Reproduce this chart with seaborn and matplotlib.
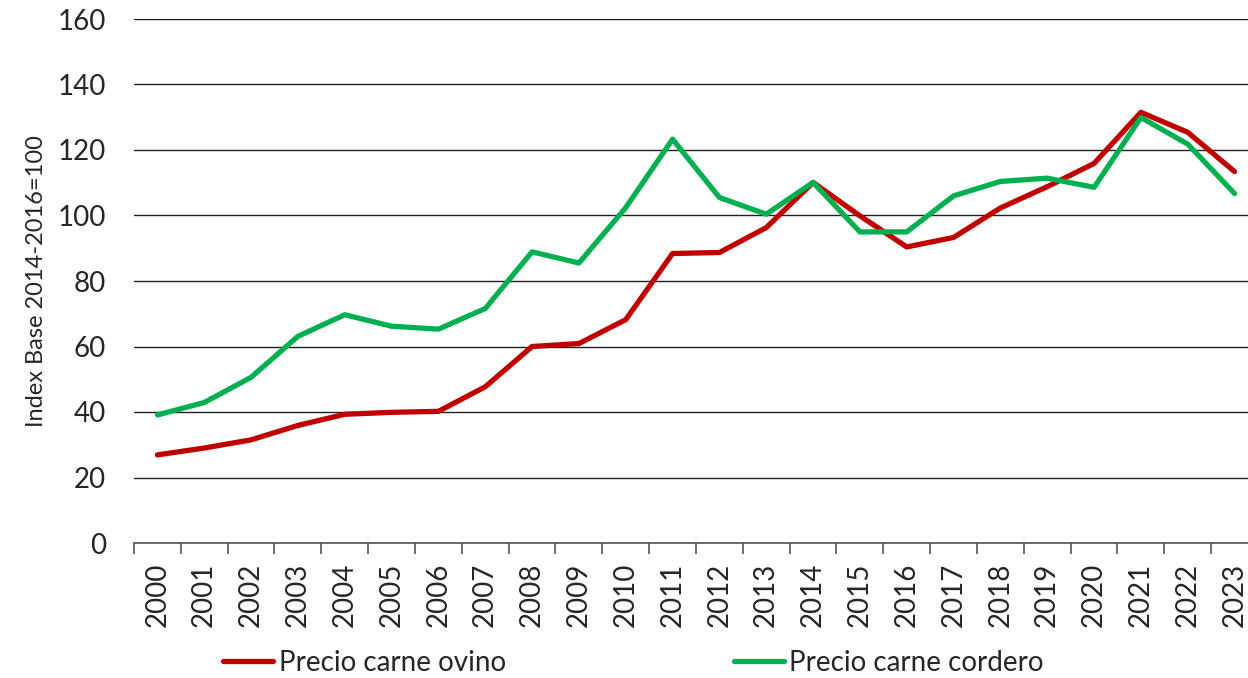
import matplotlib
matplotlib.use("Agg")
import matplotlib.pyplot as plt
import seaborn as sns
import pandas as pd
from matplotlib.ticker import FixedLocator, NullFormatter

years = list(range(2000, 2024))
ovino = [26.9, 29.0, 31.5, 35.9, 39.3, 39.9, 40.2, 47.7, 60.0, 60.9, 68.2, 88.4,
         88.7, 96.3, 110.1, 99.9, 90.4, 93.3, 102.3, 108.8, 115.9, 131.5, 125.4, 113.4]
cordero = [39.1, 42.9, 50.6, 63.1, 69.7, 66.2, 65.3, 71.6, 88.9, 85.5, 102.4, 123.3,
           105.5, 100.4, 110.1, 95.0, 95.0, 106.0, 110.4, 111.4, 108.6, 129.9, 121.8, 106.7]
series_names = ["Precio carne ovino", "Precio carne cordero"]
colors = ["#C00000", "#00B050"]
y_label = "Index Base 2014-2016=100"

df = pd.DataFrame({
    "year": years * 2,
    "value": ovino + cordero,
    "series": [series_names[0]] * len(years) + [series_names[1]] * len(years),
})

sns.set_style("white")
plt.rcParams["font.family"] = ["Lato", "DejaVu Sans"]

fig = plt.figure(figsize=(12.48, 6.78), dpi=100)
ax = fig.add_axes([134 / 1248, 1 - 543 / 678, 1124 / 1248, (543 - 19) / 678])

sns.lineplot(data=df, x="year", y="value", hue="series", palette=colors,
             linewidth=3.8, ax=ax, legend=True, solid_capstyle="round")

ax.set_xlim(1999.5, 2023.5)
ax.set_ylim(0, 160)
ax.set_yticks(range(0, 161, 20))
ax.yaxis.grid(True, color="#202020", linewidth=1.0)
ax.set_axisbelow(True)
for s in ["left", "right", "top"]:
    ax.spines[s].set_visible(False)
ax.spines["bottom"].set_color("#555555")
ax.spines["bottom"].set_linewidth(1.2)

ax.set_xticks(years)
ax.set_xticklabels([str(y) for y in years], rotation=90, fontsize=20)
ax.xaxis.set_minor_locator(FixedLocator([y - 0.5 for y in years] + [2023.5]))
ax.xaxis.set_minor_formatter(NullFormatter())
ax.tick_params(axis="x", which="major", length=0, pad=14)
ax.tick_params(axis="x", which="minor", length=8, width=1.2, color="#555555", direction="out", bottom=True)
ax.tick_params(axis="y", length=0, labelsize=20, pad=20)

ax.set_xlabel("")
ax.set_ylabel(y_label, fontsize=17, labelpad=8)

handles, labels = ax.get_legend_handles_labels()
ax.legend(handles, labels, loc="lower left", bbox_to_anchor=(212 / 1248, -9 / 678),
          bbox_transform=fig.transFigure, ncol=2, frameon=False, fontsize=20,
          handlelength=1.8, handletextpad=0.2, columnspacing=8.2, borderaxespad=0.0)

fig.savefig("out.png", dpi=100)
